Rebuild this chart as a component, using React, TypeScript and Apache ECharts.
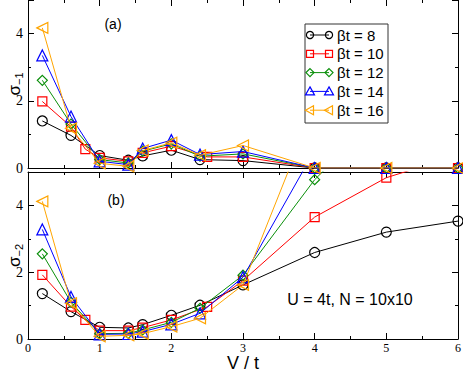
import React, { useEffect, useRef } from "react";
import * as echarts from "echarts";

// V/t values
const V_COMMON = [0.2, 0.6, 1.0, 1.4, 1.6, 2.0, 2.4, 3.0, 4.0, 5.0, 6.0];
const V_RED = [0.2, 0.6, 0.8, 1.0, 1.4, 1.6, 2.0, 2.5, 3.0, 4.0, 5.0, 6.0];

const LABELS = ["βt = 8", "βt = 10", "βt = 12", "βt = 14", "βt = 16"];
const COLORS = ["#000000", "#ff0000", "#0a8f0a", "#0000ff", "#ffa500"];

// panel (a): sigma_-1
const A_B8 = [1.4, 0.97, 0.37, 0.23, 0.36, 0.53, 0.25, 0.22, 0, 0, 0];
const A_B10 = [1.98, 1.23, 0.56, 0.3, 0.2, 0.45, 0.65, 0.33, 0.33, 0, 0, 0];
const A_B12 = [2.61, 1.31, 0.25, 0.15, 0.5, 0.72, 0.35, 0.42, 0, 0, 0];
const A_B14 = [3.35, 1.53, 0.2, 0.1, 0.58, 0.83, 0.4, 0.49, 0, 0, 0];
const A_B16 = [4.17, 1.18, 0.14, 0.05, 0.52, 0.75, 0.38, 0.67, 0, 0, 0];

// panel (b): sigma_-2
const B_B8 = [1.36, 0.82, 0.35, 0.33, 0.43, 0.71, 1.01, 1.62, 2.59, 3.2, 3.53];
const B_B10 = [1.92, 0.97, 0.57, 0.25, 0.25, 0.34, 0.57, 0.96, 1.75, 3.65, 4.83, 5.5];
const B_B12 = [2.55, 1.1, 0.16, 0.17, 0.27, 0.5, 0.92, 1.91, 4.77, 6.9, 8.5];
const B_B14 = [3.28, 1.26, 0.14, 0.15, 0.22, 0.44, 0.77, 1.85, 5.65, 8, 9];
const B_B16 = [4.12, 1.07, 0.08, 0.11, 0.16, 0.37, 0.62, 1.62, 7.0, 9, 10];

const SYMBOLS = ["circle", "rect", "diamond", "triangle", "triangle"];
const SYMROT = [0, 0, 0, 0, 90];
const SYMSIZE = [10, 9, 10, 11, 11];

const pairs = (xs: number[], ys: number[]) => ys.map((y, i) => [xs[i], y]);

export default function App() {
  const ref = useRef<HTMLDivElement>(null);
  useEffect(() => {
    if (!ref.current) return;
    const chart = echarts.init(ref.current, undefined, { renderer: "svg" });
    const aData = [A_B8, A_B10, A_B12, A_B14, A_B16];
    const bData = [B_B8, B_B10, B_B12, B_B14, B_B16];
    const mk = (ys: number[], i: number, panel: number) => ({
      type: "line",
      name: LABELS[i] + (panel ? " b" : " a"),
      xAxisIndex: panel * 2,
      yAxisIndex: panel * 2,
      data: pairs(i === 1 ? V_RED : V_COMMON, ys),
      symbol: SYMBOLS[i],
      symbolRotate: SYMROT[i],
      symbolSize: SYMSIZE[i],
      clip: true,
      z: 2 + i,
      lineStyle: { color: COLORS[i], width: 1 },
      itemStyle: { color: "rgba(0,0,0,0)", borderColor: COLORS[i], borderWidth: 1.2 },
    });
    const series: any[] = [];
    aData.forEach((d, i) => series.push(mk(d, i, 0)));
    bData.forEach((d, i) => series.push(mk(d, i, 1)));

    const lineBlack = { lineStyle: { color: "#000", width: 1 } };
    const xBase = (grid: number, pos: string, labels: boolean, showLine = true, extra: any = {}) => ({
      type: "value",
      gridIndex: grid,
      position: pos,
      min: 0,
      max: 6,
      interval: 1,
      axisLine: { show: showLine, onZero: false, ...lineBlack },
      axisTick: { show: true, inside: true, length: 6, ...lineBlack },
      minorTick: { show: true, splitNumber: 2, length: 3, ...lineBlack },
      splitLine: { show: false },
      axisLabel: { show: labels, margin: 3, fontFamily: "Liberation Serif", fontSize: 12, color: "#000" },
      ...extra,
    });
    const yBase = (grid: number, pos: string, labels: boolean, extra: any = {}) => ({
      type: "value",
      gridIndex: grid,
      position: pos,
      min: 0,
      max: 5,
      interval: 2,
      axisLine: { show: true, onZero: false, ...lineBlack },
      axisTick: { show: true, inside: true, length: 6, ...lineBlack },
      minorTick: { show: true, splitNumber: 2, length: 3, ...lineBlack },
      splitLine: { show: false },
      axisLabel: {
        show: labels,
        margin: 5,
        showMaxLabel: false,
        fontFamily: "Liberation Serif",
        fontSize: 14,
        color: "#000",
      },
      ...extra,
    });
    const yName = (sub: string) => ({
      name: "{s|σ}{b|" + sub + "}",
      nameLocation: "middle",
      nameRotate: 90,
      nameGap: 4,
      nameMoveOverlap: false,
      nameTextStyle: {
        rich: {
          s: { fontFamily: "Liberation Sans", fontSize: 17, color: "#000" },
          b: { fontFamily: "Liberation Sans", fontSize: 11, color: "#000", padding: [9, 0, 0, 0] },
        },
      },
    });

    const legendItems: any[] = [];
    const lx = 310, lx2 = 329, ly0 = 35, ldy = 18.8;
    const markerShape = (i: number, cx: number, cy: number) => {
      const c = COLORS[i];
      const st = { fill: "none", stroke: c, lineWidth: 1.2 };
      if (i === 0) return { type: "circle", z: 101, shape: { cx, cy, r: 3.6 }, style: st };
      if (i === 1) return { type: "rect", z: 101, shape: { x: cx - 3.5, y: cy - 3.5, width: 7, height: 7 }, style: st };
      if (i === 2)
        return { type: "polygon", z: 101, shape: { points: [[cx, cy - 4], [cx + 4, cy], [cx, cy + 4], [cx - 4, cy]] }, style: st };
      if (i === 3)
        return { type: "polygon", z: 101, shape: { points: [[cx, cy - 4.5], [cx + 4.5, cy + 3.5], [cx - 4.5, cy + 3.5]] }, style: st };
      return { type: "polygon", z: 101, shape: { points: [[cx - 4.5, cy], [cx + 3.5, cy - 4.5], [cx + 3.5, cy + 4.5]] }, style: st };
    };
    LABELS.forEach((lab, i) => {
      const y = ly0 + i * ldy;
      legendItems.push({ type: "line", z: 101, shape: { x1: lx, y1: y, x2: lx2, y2: y }, style: { stroke: COLORS[i], lineWidth: 1 } });
      legendItems.push(markerShape(i, lx, y));
      legendItems.push(markerShape(i, lx2, y));
      legendItems.push({
        type: "text",
        z: 101,
        x: 337,
        y,
        style: { text: lab, font: "15px 'Liberation Sans'", fill: "#000", verticalAlign: "middle", align: "left" },
      });
    });

    const ob = { left: -200, right: -200, top: -200, bottom: -200 };
    chart.setOption({
      animation: false,
      grid: [
        { left: 28, right: 5, top: 0, height: 168, outerBounds: ob },
        { left: 28, right: 5, top: 172, height: 167, outerBounds: ob },
      ],
      xAxis: [
        xBase(0, "bottom", false),
        xBase(0, "top", false, false),
        xBase(1, "bottom", true, true, {
          name: "V / t",
          nameLocation: "middle",
          nameGap: 15,
          nameMoveOverlap: false,
          nameTextStyle: { fontFamily: "Liberation Sans", fontSize: 18, color: "#000" },
        }),
        xBase(1, "top", false),
      ],
      yAxis: [
        yBase(0, "left", true, yName("−1")),
        yBase(0, "right", false),
        yBase(1, "left", true, yName("−2")),
        yBase(1, "right", false),
      ],
      series,
      graphic: [
        {
          type: "rect",
          shape: { x: 305, y: 24, width: 83, height: 99 },
          style: { fill: "#fff", stroke: "#333", lineWidth: 1 },
          z: 100,
        },
        ...legendItems,
        {
          type: "text",
          x: 113,
          y: 24,
          style: { text: "(a)", font: "14px 'Liberation Sans'", fill: "#000", align: "center", verticalAlign: "middle" },
        },
        {
          type: "text",
          x: 116,
          y: 200,
          style: { text: "(b)", font: "14px 'Liberation Sans'", fill: "#000", align: "center", verticalAlign: "middle" },
        },
        {
          type: "text",
          x: 350,
          y: 299,
          style: {
            text: "U = 4t, N = 10x10",
            font: "16px 'Liberation Sans'",
            fill: "#000",
            align: "center",
            verticalAlign: "middle",
          },
        },
      ],
    });
    return () => chart.dispose();
  }, []);
  return <div ref={ref} style={{ width: 463, height: 372, position: "absolute", left: 0, top: 0, background: "#fff" }} />;
}
